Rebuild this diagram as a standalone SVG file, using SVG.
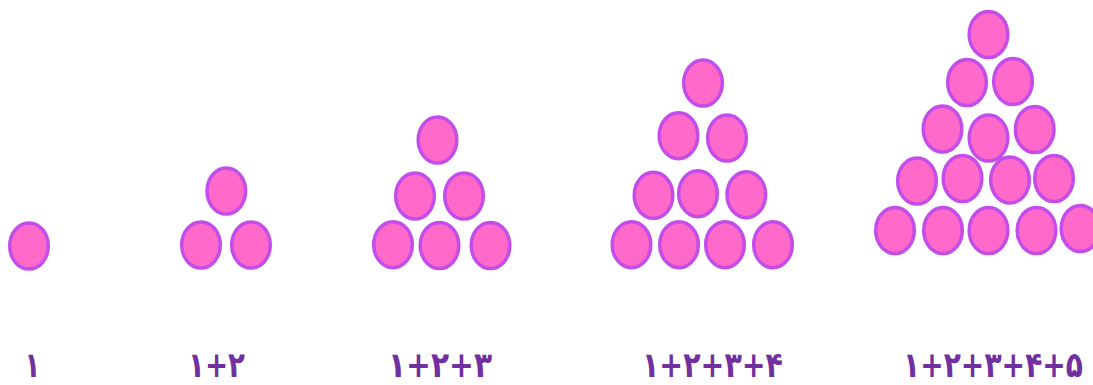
<svg xmlns="http://www.w3.org/2000/svg" width="1093" height="385" viewBox="0 0 1093 385">
<style>
.b{fill:#ff69c9;stroke:#c44ce8;stroke-width:3.5}
.t{font-family:"DejaVu Sans",sans-serif;font-weight:bold;font-size:26px;fill:#7030a0;direction:ltr}
</style>
<rect width="1093" height="385" fill="#ffffff"/>
<g id="n1">
<ellipse class="b" cx="29" cy="246" rx="19.3" ry="23"/>
</g>
<g id="n2">
<ellipse class="b" cx="226.3" cy="191" rx="19.3" ry="23"/>
<ellipse class="b" cx="201" cy="245" rx="19.3" ry="23"/>
<ellipse class="b" cx="251" cy="245" rx="19.3" ry="23"/>
</g>
<g id="n3">
<ellipse class="b" cx="437.5" cy="140" rx="19.3" ry="23"/>
<ellipse class="b" cx="415" cy="196" rx="19.3" ry="23"/>
<ellipse class="b" cx="464" cy="196" rx="19.3" ry="23"/>
<ellipse class="b" cx="393" cy="244.7" rx="19.3" ry="23"/>
<ellipse class="b" cx="439.5" cy="245.5" rx="19.3" ry="23"/>
<ellipse class="b" cx="490.5" cy="245.5" rx="19.3" ry="23"/>
</g>
<g id="n4">
<ellipse class="b" cx="703" cy="83" rx="19.3" ry="23"/>
<ellipse class="b" cx="678.5" cy="135.7" rx="19.3" ry="23"/>
<ellipse class="b" cx="727" cy="138" rx="19.3" ry="23"/>
<ellipse class="b" cx="653.5" cy="195.3" rx="19.3" ry="23"/>
<ellipse class="b" cx="698" cy="193.7" rx="19.3" ry="23"/>
<ellipse class="b" cx="746.3" cy="194.7" rx="19.3" ry="23"/>
<ellipse class="b" cx="631.5" cy="244.7" rx="19.3" ry="23"/>
<ellipse class="b" cx="679" cy="244.7" rx="19.3" ry="23"/>
<ellipse class="b" cx="725" cy="244.7" rx="19.3" ry="23"/>
<ellipse class="b" cx="773" cy="244.7" rx="19.3" ry="23"/>
</g>
<g id="n5">
<ellipse class="b" cx="988.5" cy="34.5" rx="19.3" ry="23"/>
<ellipse class="b" cx="967" cy="82.5" rx="19.3" ry="23"/>
<ellipse class="b" cx="1013" cy="81.5" rx="19.3" ry="23"/>
<ellipse class="b" cx="942.5" cy="129" rx="19.3" ry="23"/>
<ellipse class="b" cx="988.5" cy="138" rx="19.3" ry="23"/>
<ellipse class="b" cx="1034.7" cy="129.5" rx="19.3" ry="23"/>
<ellipse class="b" cx="917" cy="181" rx="19.3" ry="23"/>
<ellipse class="b" cx="962.5" cy="178.5" rx="19.3" ry="23"/>
<ellipse class="b" cx="1010" cy="180" rx="19.3" ry="23"/>
<ellipse class="b" cx="1054" cy="178.5" rx="19.3" ry="23"/>
<ellipse class="b" cx="895" cy="230.5" rx="19.3" ry="23"/>
<ellipse class="b" cx="943" cy="230.5" rx="19.3" ry="23"/>
<ellipse class="b" cx="988.5" cy="230.5" rx="19.3" ry="23"/>
<ellipse class="b" cx="1036.5" cy="230.5" rx="19.3" ry="23"/>
<ellipse class="b" cx="1080.5" cy="228.5" rx="19.3" ry="23"/>
</g>
<g id="labels">
<text class="t" transform="translate(32.5,377) scale(1,1.35)" text-anchor="middle">۱</text>
<text class="t" transform="translate(188,377) scale(1,1.35)" textLength="57" lengthAdjust="spacingAndGlyphs">۱+۲</text>
<text class="t" transform="translate(388,377) scale(1,1.35)" textLength="104" lengthAdjust="spacingAndGlyphs">۱+۲+۳</text>
<text class="t" transform="translate(642,377) scale(1,1.35)" textLength="141" lengthAdjust="spacingAndGlyphs">۱+۲+۳+۴</text>
<text class="t" transform="translate(903,377) scale(1,1.35)" textLength="180" lengthAdjust="spacingAndGlyphs">۱+۲+۳+۴+۵</text>
</g>
</svg>
